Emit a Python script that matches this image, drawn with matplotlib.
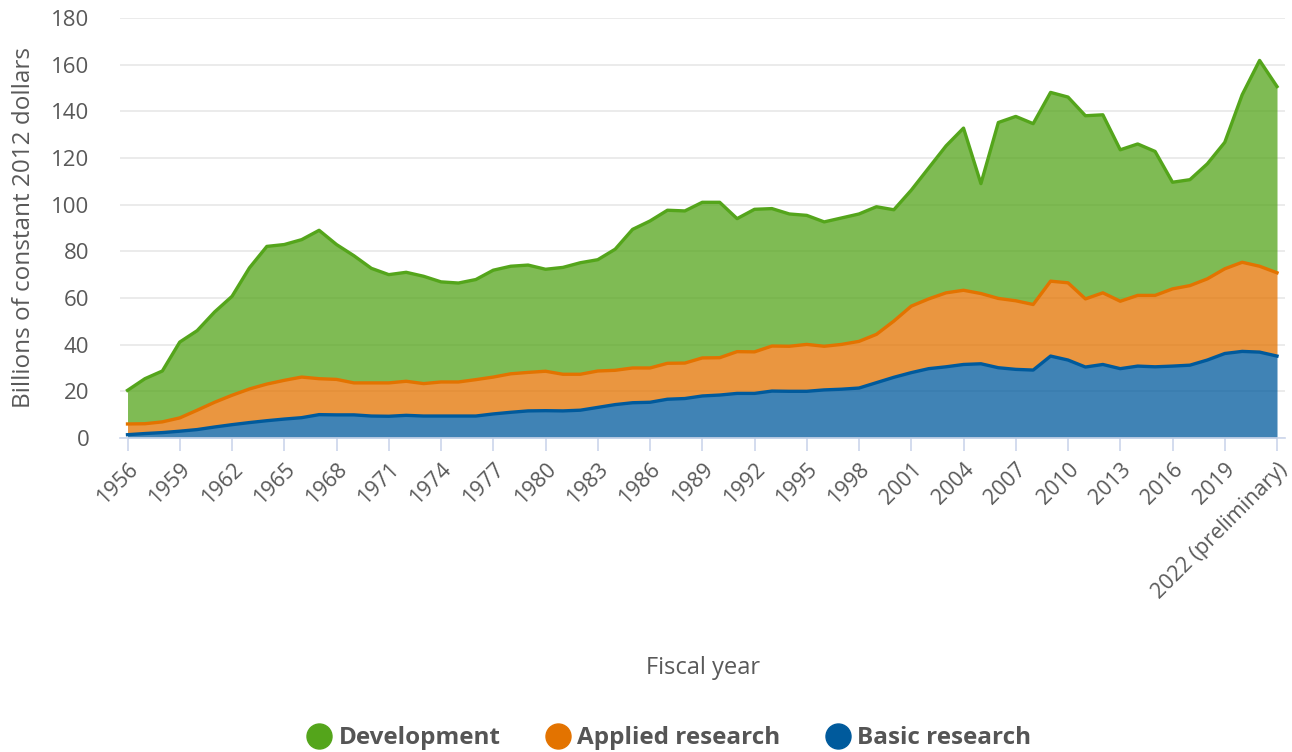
"""Federal R&D obligations by character of work, stacked area chart."""

import matplotlib.pyplot as plt
from matplotlib.lines import Line2D
import numpy as np

plt.rcParams['font.family'] = ['Open Sans', 'DejaVu Sans']

# Fiscal years 1956-2022, billions of constant 2012 dollars
years = list(range(1956, 2023))

basic_research = [
    1.4, 1.9, 2.3, 2.9, 3.6, 4.7, 5.7, 6.6, 7.4, 8.1,
    8.7, 10.0, 9.9, 9.9, 9.4, 9.3, 9.7, 9.4, 9.4, 9.4,
    9.4, 10.3, 11.0, 11.6, 11.7, 11.6, 11.9, 13.1, 14.3, 15.1,
    15.3, 16.6, 16.9, 18.0, 18.4, 19.1, 19.1, 20.1, 20.0, 20.0,
    20.6, 20.9, 21.4, 23.7, 26.0, 28.0, 29.7, 30.5, 31.5, 31.8,
    30.1, 29.4, 29.1, 35.1, 33.4, 30.4, 31.5, 29.7, 30.8, 30.5,
    30.8, 31.2, 33.4, 36.2, 37.1, 36.8, 35.1,
]

applied_research = [
    4.6, 4.2, 4.6, 5.7, 8.3, 10.6, 12.6, 14.4, 15.7, 16.6,
    17.4, 15.4, 15.2, 13.7, 14.2, 14.3, 14.6, 13.9, 14.6, 14.6,
    15.6, 15.8, 16.5, 16.5, 16.9, 15.7, 15.4, 15.6, 14.7, 14.9,
    14.7, 15.4, 15.2, 16.3, 16.0, 17.9, 17.8, 19.3, 19.3, 20.1,
    18.7, 19.2, 20.0, 20.7, 24.1, 28.5, 29.9, 31.7, 31.8, 30.1,
    29.7, 29.4, 28.1, 32.1, 33.1, 29.2, 30.7, 28.9, 30.3, 30.6,
    33.1, 34.1, 34.8, 36.3, 38.2, 36.8, 35.7,
]

development = [
    14.4, 19.3, 21.8, 32.5, 34.1, 38.7, 42.4, 51.9, 59.0, 58.2,
    58.9, 63.6, 57.8, 54.5, 49.1, 46.4, 46.7, 46.0, 42.9, 42.4,
    42.9, 45.8, 46.1, 46.0, 43.7, 45.8, 47.8, 47.7, 51.9, 59.4,
    63.0, 65.6, 65.2, 66.7, 66.6, 57.0, 61.1, 58.9, 56.7, 55.3,
    53.3, 54.2, 54.6, 54.7, 47.7, 49.7, 56.1, 63.0, 69.5, 47.1,
    75.4, 79.0, 77.5, 80.9, 79.6, 78.5, 76.3, 64.9, 64.9, 61.7,
    45.7, 45.4, 49.3, 54.2, 71.8, 88.2, 79.8,
]

# Tick labels every third year, the last one is preliminary
tick_years = years[::3]
tick_labels = [str(y) for y in tick_years[:-1]] + ['2022 (preliminary)']

# Series colours (line colour; fill uses the same colour with opacity)
series = [
    ('Basic research', basic_research, '#005a9c'),
    ('Applied research', applied_research, '#e37300'),
    ('Development', development, '#54a51b'),
]

fig = plt.figure(figsize=(12.92, 7.52), dpi=100)
ax = fig.add_axes([0.0929, 0.4176, 0.9017, 0.5585])

x = np.arange(len(years))
bottom = np.zeros(len(years))
for name, values, color in series:
    top = bottom + np.array(values)
    ax.fill_between(x, bottom, top, color=color, alpha=0.75, linewidth=0)
    ax.plot(x, top, color=color, linewidth=2.4, solid_joinstyle='round')
    bottom = top

# Axes styling
ax.set_xlim(-0.43, len(years) - 1 + 0.46)
ax.set_ylim(0, 180)
ax.set_yticks(np.arange(0, 181, 20))
ax.grid(True, axis='y', color='#e6e6e6', linewidth=1.1)
ax.set_axisbelow(True)
for side in ['top', 'right', 'left']:
    ax.spines[side].set_visible(False)
ax.spines['bottom'].set_color('#ccd6eb')
ax.spines['bottom'].set_linewidth(1.2)

ax.set_xticks([years.index(y) for y in tick_years])
ax.set_xticklabels(tick_labels, rotation=45, ha='right', rotation_mode='anchor')
ax.tick_params(axis='x', colors='#ccd6eb', length=9, width=1.2, pad=6,
               labelcolor='#595959', labelsize=15.5)
ax.tick_params(axis='y', length=0, pad=22, labelcolor='#595959', labelsize=16)

ax.set_ylabel('Billions of constant 2012 dollars', fontsize=17.5, color='#595959', labelpad=11)
fig.text(0.5445, 0.1117, 'Fiscal year', fontsize=17, color='#595959', ha='center', va='center')

# Legend in reverse stacking order
handles = [
    Line2D([], [], linestyle='none', marker='o', markersize=18, color=color)
    for name, values, color in reversed(series)
]
labels = [name for name, values, color in reversed(series)]
leg = fig.legend(handles, labels, loc='center', bbox_to_anchor=(0.518, 0.018), ncol=3,
                 frameon=False, fontsize=17.5, handletextpad=0.3, columnspacing=1.85,
                 handlelength=1.0)
for text in leg.get_texts():
    text.set_color('#555555')
    text.set_fontweight('bold')

fig.savefig('out.png', dpi=100)
